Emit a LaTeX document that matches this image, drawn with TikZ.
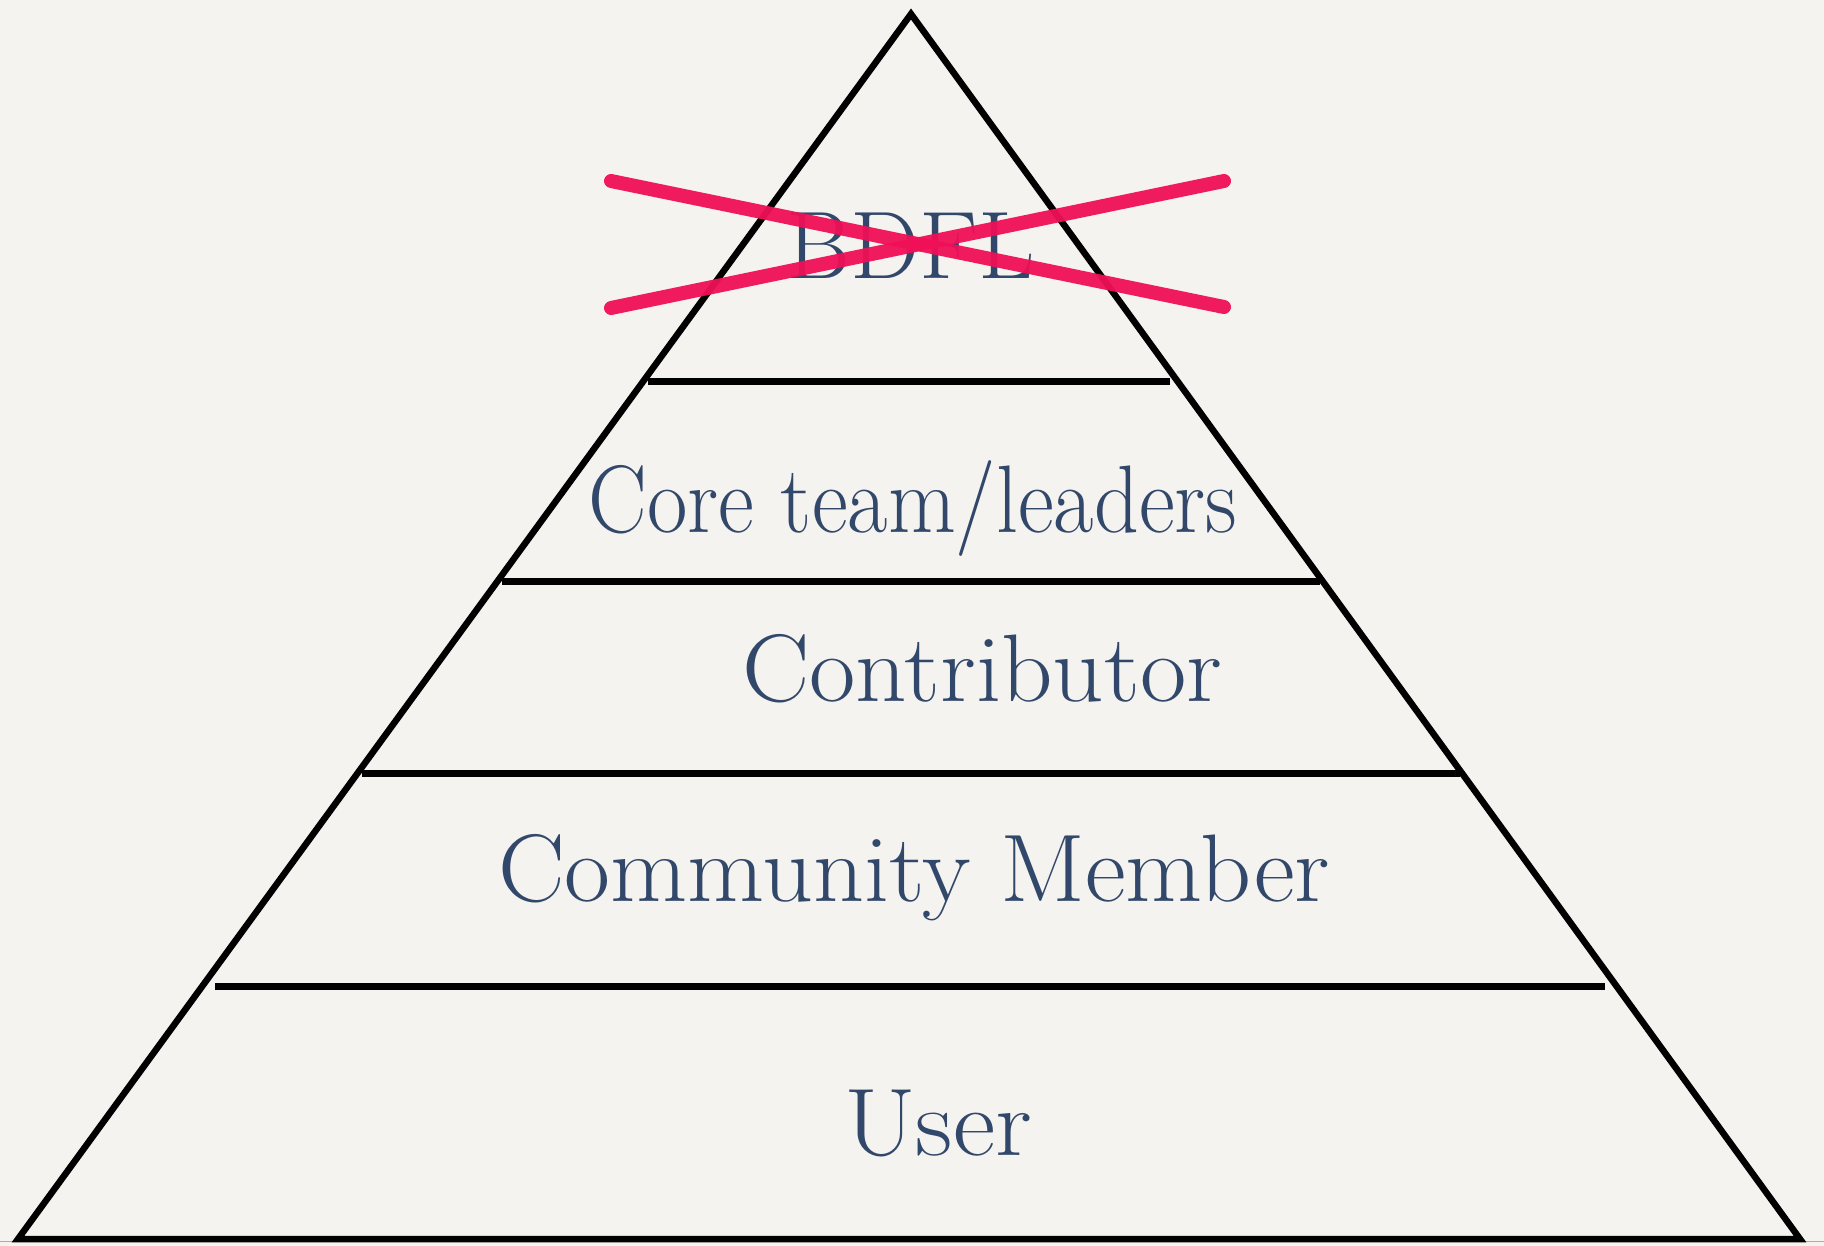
\documentclass[tikz,border=0pt]{standalone}
\usepackage{fontspec}
\definecolor{paper}{RGB}{245,243,239}
\definecolor{labelblue}{RGB}{50,72,106}
\definecolor{strike}{RGB}{240,16,88}
\definecolor{edgeblue}{RGB}{150,175,210}
\tikzset{
  tier/.style={line width=6.5pt, black},
  lbl/.style={anchor=base, inner sep=0pt, text=labelblue, font=\fontsize{96}{100}\selectfont},
  cross/.style={line width=14pt, strike, line cap=round, opacity=0.95}
}
\begin{document}
\begin{tikzpicture}[x=1pt,y=-1pt]
\fill[paper] (0,0) rectangle (1824,1246);
\useasboundingbox (0,0) rectangle (1824,1246);
\draw[edgeblue, line width=1.5pt] (0,1241.5) -- (1824,1241.5);
\coordinate (apex) at (911,14);
\coordinate (bl) at (18,1239);
\coordinate (br) at (1800,1239);
\draw[tier, line join=miter] (apex) -- (br) -- (bl) -- cycle;
\coordinate (l1a) at (648,381.5); \coordinate (l1b) at (1170,381.5);
\coordinate (l2a) at (502,581.5); \coordinate (l2b) at (1320,581.5);
\coordinate (l3a) at (362,773.5); \coordinate (l3b) at (1460,773.5);
\coordinate (l4a) at (215,986.5); \coordinate (l4b) at (1605,986.5);
\draw[tier] (l1a) -- (l1b);
\draw[tier] (l2a) -- (l2b);
\draw[tier] (l3a) -- (l3b);
\draw[tier] (l4a) -- (l4b);
\node[lbl] (bdfl) at (911,279) {\scalebox{1.02}[1]{BDFL}};
\node[lbl] (core) at (913,532) {\scalebox{0.915}[1]{Core team/leaders}};
\node[lbl] (contrib) at (982,701) {\scalebox{1.05}[1]{Contributor}};
\node[lbl] (member) at (914,901) {\scalebox{1.04}[1]{Community Member}};
\node[lbl] (user) at (938,1155) {\scalebox{1.08}[1]{User}};
\coordinate (xa1) at (611,181); \coordinate (xa2) at (1224,307);
\coordinate (xb1) at (611,308); \coordinate (xb2) at (1224,181);
\draw[cross] (xa1) -- (xa2);
\draw[cross] (xb1) -- (xb2);
\end{tikzpicture}
\end{document}
